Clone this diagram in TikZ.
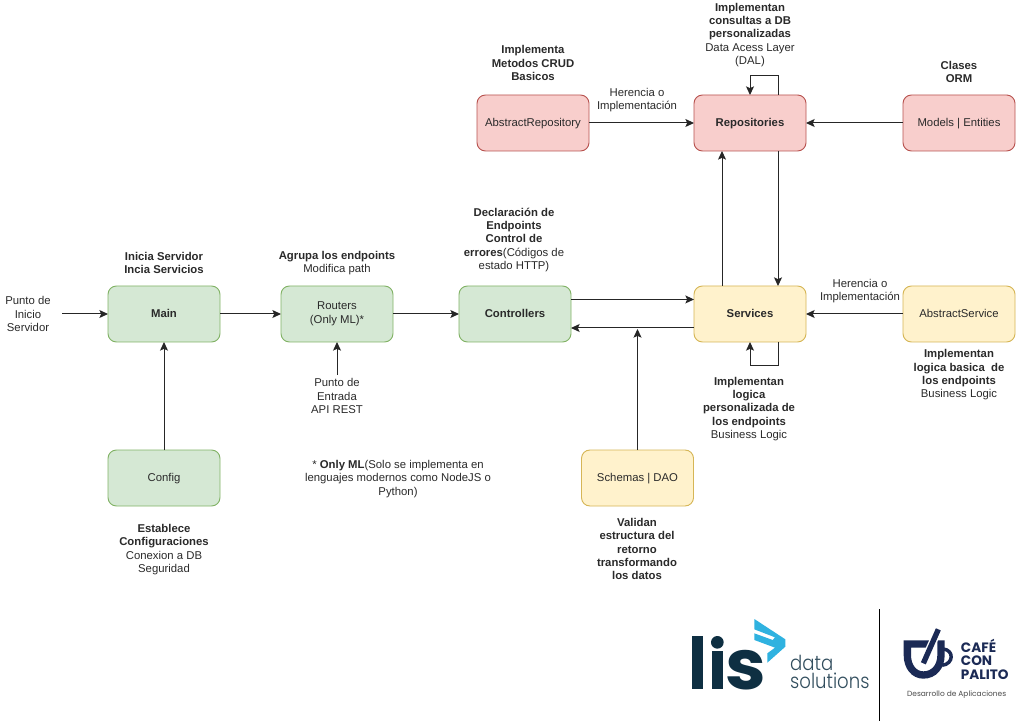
\documentclass[tikz,border=0pt]{standalone}
\usepackage{fontspec}
\usepackage{graphicx}
\setmainfont{Liberation Sans}
\newfontfamily\logofont{Poppins}
\newfontfamily\logolight[UprightFont=* Light]{Poppins}
\usetikzlibrary{arrows.meta,calc}
\definecolor{txt}{HTML}{2A2A2A}
\definecolor{lisdark}{HTML}{0E2F42}
\definecolor{lisblue}{HTML}{2FB2E0}
\definecolor{cafe}{HTML}{1B2A55}
\newcommand{\bt}[1]{\textbf{#1}}
\tikzset{
  box/.style={draw,rounded corners=6.3pt,minimum width=84pt,minimum height=42pt,inner sep=0pt,outer sep=0pt,line width=0.7pt,text=txt,font=\fontsize{8.5}{10}\selectfont,align=center,execute at begin node={\rule[-2pt]{0pt}{9.5pt}}},
  greenbox/.style={box,fill={rgb,255:red,213;green,232;blue,212},draw={rgb,255:red,130;green,179;blue,102}},
  redbox/.style={box,fill={rgb,255:red,248;green,206;blue,204},draw={rgb,255:red,184;green,84;blue,80}},
  yellowbox/.style={box,fill={rgb,255:red,255;green,242;blue,204},draw={rgb,255:red,214;green,182;blue,86}},
  note/.style={align=center,text=txt,inner sep=0pt,font=\fontsize{8.5}{10}\selectfont},
  conn/.style={draw=black!85,line width=0.75pt,-{Stealth[length=6.5pt,width=6pt,inset=1.4pt]}},
}
\begin{document}
\begin{tikzpicture}[x=0.75pt,y=-0.75pt]
\useasboundingbox (0,0) rectangle (1024,723);
\fill[white] (0,0) rectangle (1024,723);
% boxes
\node[redbox] (absrepo) at (533,123) {AbstractRepository};
\node[redbox] (repo) at (750,123) {\bt{Repositories}};
\node[redbox] (models) at (959,123) {Models | Entities};
\node[greenbox] (main) at (164,314) {\bt{Main}};
\node[greenbox] (routers) at (337,314) {Routers\\(Only ML)*};
\node[greenbox] (ctrl) at (515,314) {\bt{Controllers}};
\node[yellowbox] (serv) at (750,314) {\bt{Services}};
\node[yellowbox] (absserv) at (959,314) {AbstractService};
\node[greenbox] (config) at (164,478) {Config};
\node[yellowbox] (schemas) at (637.5,478) {Schemas | DAO};
% notes
\node[note] (n1) at (533,63) {\bt{Implementa}\\\bt{Metodos CRUD}\\\bt{Basicos}};
\node[note] (n2) at (637,100) {Herencia o\\Implementación};
\node[note] (n3) at (750,35) {\bt{Implementan}\\\bt{consultas a DB}\\\bt{personalizadas}\\Data Acess Layer\\(DAL)};
\node[note] (n4) at (959,72) {\bt{Clases}\\\bt{ORM}};
\node[note] (n5) at (164,263) {\bt{Inicia Servidor}\\\bt{Incia Servicios}};
\node[note] (n6) at (337,263) {\bt{Agrupa los endpoints}\\Modifica path};
\node[note] (n7) at (514,240) {\bt{Declaración de}\\\bt{Endpoints}\\\bt{Control de}\\\bt{errores}(Códigos de\\estado HTTP)};
\node[note] (n8) at (28,314) {Punto de\\Inicio\\Servidor};
\node[note] (n9) at (860,291) {Herencia o\\Implementación};
\node[note] (n10) at (959,375) {\bt{Implementan}\\\bt{logica basica\ \ de}\\\bt{los endpoints}\\Business Logic};
\node[note] (n11) at (749,409) {\bt{Implementan}\\\bt{logica}\\\bt{personalizada de}\\\bt{los endpoints}\\Business Logic};
\node[note] (n12) at (337,396) {Punto de\\Entrada\\API REST};
\node[note] (n13) at (398,479) {* \bt{Only ML}(Solo se implementa en\\lenguajes modernos como NodeJS o\\Python)};
\node[note] (n14) at (164,549.5) {\bt{Establece}\\\bt{Configuraciones}\\Conexion a DB\\Seguridad};
\node[note] (n15) at (637,549) {\bt{Validan}\\\bt{estructura del}\\\bt{retorno}\\\bt{transformando}\\\bt{los datos}};
% free ends
\coordinate (startpt) at (62,314);
\coordinate (apipt) at (337,375);
\coordinate (schemaend) at (637.5,329);
% connectors
\draw[conn] (startpt) -- (main.west);
\draw[conn] (main.east) -- (routers.west);
\draw[conn] (routers.east) -- (ctrl.west);
\draw[conn] (config.north) -- (main.south);
\draw[conn] (apipt) -- (routers.south);
\draw[conn] (absrepo.east) -- (repo.west);
\draw[conn] (models.west) -- (repo.east);
\draw[conn] (absserv.west) -- (serv.east);
\draw[conn] ([yshift=10.9pt]ctrl.east) -- ([yshift=10.9pt]ctrl.east -| serv.west);
\draw[conn] ([yshift=-10.5pt]serv.west) -- ([yshift=-10.5pt]serv.west -| ctrl.east);
\draw[conn] (schemas.north -| schemaend) -- (schemaend);
\draw[conn] ([xshift=-21pt]serv.north) -- ([xshift=-21pt]repo.south);
\draw[conn] ([xshift=21pt]repo.south) -- ([xshift=21pt]serv.north);
\draw[conn] ([xshift=21pt]repo.north) -- ++(0,-19) -| (repo.north);
\draw[conn] ([xshift=21pt]serv.south) -- ++(0,24) -| (serv.south);
% logos
\begin{scope}[shift={(660,600)},x=0.25pt,y=-0.25pt]
\fill[lisdark] (97,108) rectangle (130,268);
\fill[lisdark] (172,127) circle[radius=19];
\fill[lisdark] (155,152) rectangle (190,268);
\node[inner sep=0pt,anchor=base west,text=lisdark] (lislogo) at (196,267) {\scalebox{1.05}[1]{\logofont\bfseries\fontsize{52}{53}\selectfont s}};
\fill[lisblue] (283,57) -- (376,118) -- (376,140) -- (322,188) -- (322,160) -- (345,143) -- (283,120) -- (283,100) -- (338,120) -- (345,112) -- (283,88) -- cycle;
\node[inner sep=0pt,anchor=south west,align=left,text=lisdark!85,transform shape,xscale=0.875,font=\logolight\fontsize{15.5}{13.25}\selectfont] (datasol) at (390,266) {data\\solutions};
\coordinate (sepa) at (658,28);
\coordinate (sepb) at (658,364);
\draw[black,line width=0.8pt] (sepa) -- (sepb);
\draw[cafe,line width=5.5pt] (815,132) -- (742,132) -- (742,165) .. controls (742,200) and (762,225) .. (790,225) .. controls (822,225) and (843,200) .. (843,165) -- (843,132) -- (832,132);
\draw[cafe,line width=2.6pt] (850,147) .. controls (882,150) and (882,192) .. (846,196);
\draw[white,line width=6pt] (838,82) -- (786,198);
\draw[cafe,line width=4pt] (835,88) -- (790,190);
\node[inner sep=0pt,anchor=base west,text=cafe] (c1) at (902,157) {\logofont\bfseries\fontsize{10.2}{10}\selectfont CAFÉ};
\node[inner sep=0pt,anchor=base west,text=cafe] (c2) at (902,197) {\logofont\bfseries\fontsize{10.2}{10}\selectfont CON};
\node[inner sep=0pt,anchor=base west,text=cafe] (c3) at (902,238) {\logofont\bfseries\fontsize{10.2}{10}\selectfont PALITO};
\node[inner sep=0pt,text=black!70] (c4) at (890,284) {\logofont\fontsize{5.6}{6}\selectfont Desarrollo de Aplicaciones};
\end{scope}
\end{tikzpicture}
\end{document}
